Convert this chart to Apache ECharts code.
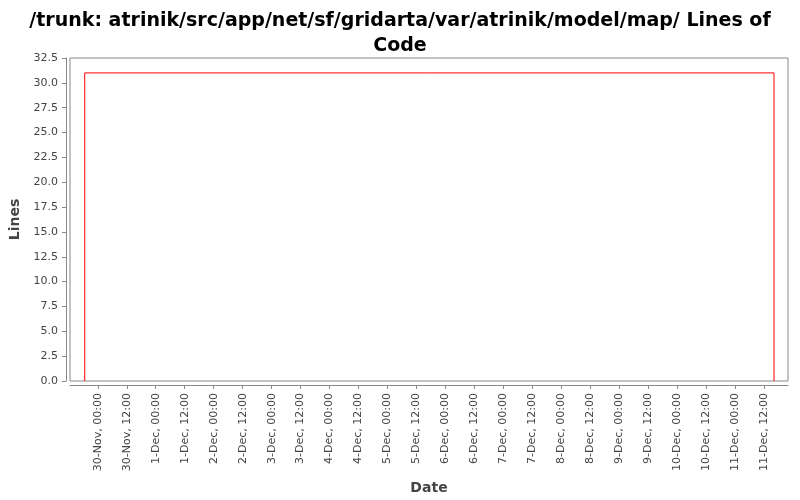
<!DOCTYPE html>
<html><head><meta charset="utf-8">
<script src="https://cdn.jsdelivr.net/npm/echarts@6/dist/echarts.min.js"></script>
<style>html,body{margin:0;padding:0;background:#fff}#c{width:800px;height:500px}</style>
</head><body><div id="c"></div>
<script>
// hours since 30-Nov 00:00
const xValues = [-5.4, -5.4, 280, 280];
const lineValues = [0, 31, 31, 0];
const tickHours = [0,12,24,36,48,60,72,84,96,108,120,132,144,156,168,180,192,204,216,228,240,252,264,276];
const tickLabels = ['30-Nov, 00:00','30-Nov, 12:00','1-Dec, 00:00','1-Dec, 12:00','2-Dec, 00:00','2-Dec, 12:00','3-Dec, 00:00','3-Dec, 12:00','4-Dec, 00:00','4-Dec, 12:00','5-Dec, 00:00','5-Dec, 12:00','6-Dec, 00:00','6-Dec, 12:00','7-Dec, 00:00','7-Dec, 12:00','8-Dec, 00:00','8-Dec, 12:00','9-Dec, 00:00','9-Dec, 12:00','10-Dec, 00:00','10-Dec, 12:00','11-Dec, 00:00','11-Dec, 12:00'];
const chart = echarts.init(document.getElementById('c'));
chart.setOption({
  animation:false,
  title:{text:'/trunk: atrinik/src/app/net/sf/gridarta/var/atrinik/model/map/ Lines of\nCode',left:'center',top:4,
    textStyle:{fontSize:19,fontWeight:'bold',color:'#000',fontFamily:'DejaVu Sans',lineHeight:25}},
  grid:{left:67,right:12,top:58,bottom:114,show:true,borderColor:'#888',borderWidth:1},
  xAxis:{type:'value',min:-11.5,max:285.8,offset:4,
    name:'Date',nameLocation:'middle',nameGap:96,nameTextStyle:{fontSize:14,fontWeight:'bold',color:'#444',fontFamily:'DejaVu Sans'},
    axisLine:{show:true,onZero:false,lineStyle:{color:'#888'}},
    axisTick:{show:true,customValues:tickHours,length:4,lineStyle:{color:'#888'}},
    axisLabel:{customValues:tickHours,rotate:90,fontSize:11,color:'#444',fontFamily:'DejaVu Sans',
      formatter:v=>tickLabels[tickHours.indexOf(v)]},
    splitLine:{show:false}},
  yAxis:{type:'value',min:0,max:32.5,interval:2.5,offset:4,
    name:'Lines',nameLocation:'middle',nameGap:44,nameTextStyle:{fontSize:14,fontWeight:'bold',color:'#444',fontFamily:'DejaVu Sans'},
    axisLine:{show:true,onZero:false,lineStyle:{color:'#888'}},
    axisTick:{show:true,length:4,lineStyle:{color:'#888'}},
    axisLabel:{fontSize:11,color:'#444',fontFamily:'DejaVu Sans',formatter:v=>v.toFixed(1)},
    splitLine:{show:false}},
  series:[{type:'line',data:xValues.map((x,i)=>[x,lineValues[i]]),showSymbol:false,
    lineStyle:{color:'#ff0000',width:1},itemStyle:{color:'#ff0000'}}]
});
</script></body></html>
